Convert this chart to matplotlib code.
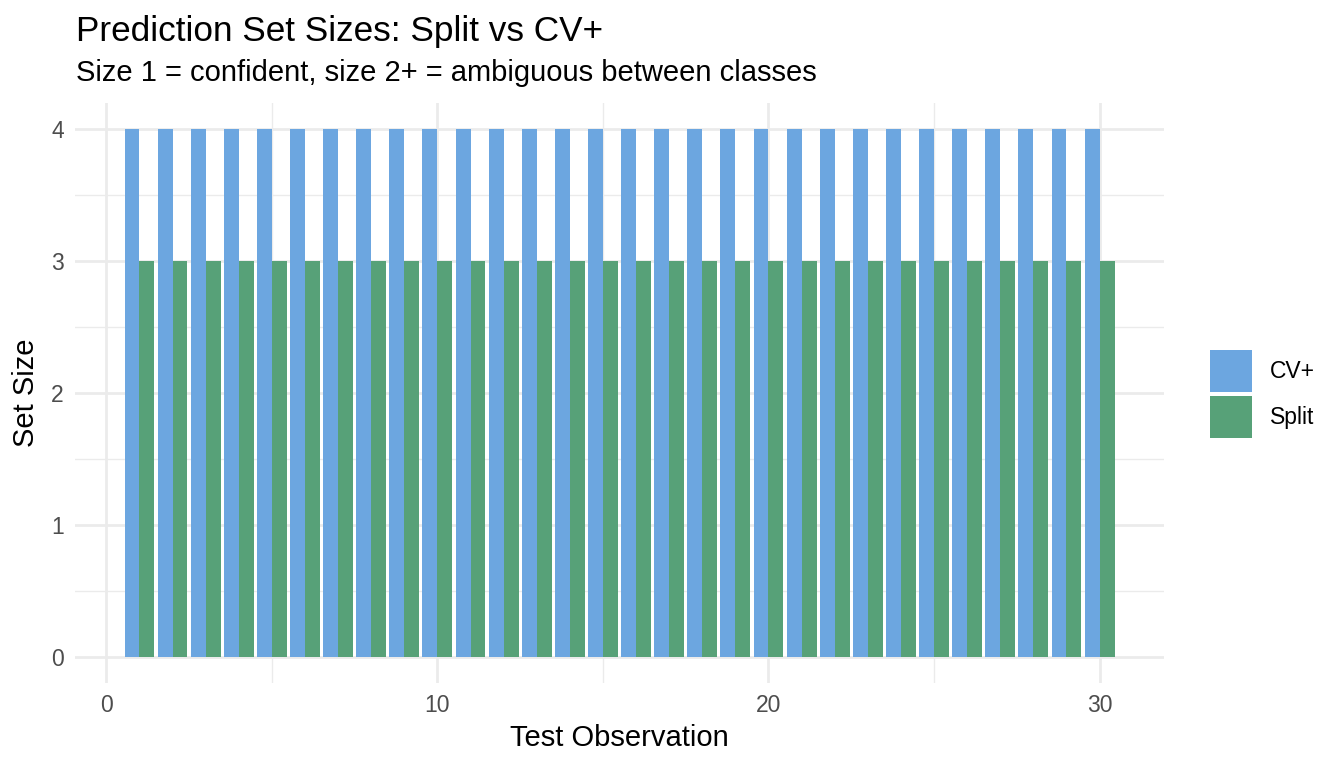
import numpy as np
import matplotlib.pyplot as plt
from matplotlib.ticker import MultipleLocator

plt.rcParams['font.family'] = ['Liberation Sans', 'DejaVu Sans']

# Data
observations = np.arange(1, 31)
cv_plus_sizes = [4] * 30
split_sizes = [3] * 30
methods = ['CV+', 'Split']
colors = ['#6CA6E0', '#57A178']

fig = plt.figure(figsize=(13.44, 7.68), dpi=100)
ax = fig.add_axes([75 / 1344, 1 - 683 / 768, (1164 - 75) / 1344, (683 - 103) / 768])

w = 0.45
ax.bar(observations - w / 2, cv_plus_sizes, width=w, color=colors[0], label=methods[0], zorder=3)
ax.bar(observations + w / 2, split_sizes, width=w, color=colors[1], label=methods[1], zorder=3)

ax.set_xlim(-0.945, 31.945)
ax.set_ylim(-0.2, 4.2)
ax.xaxis.set_major_locator(MultipleLocator(10))
ax.xaxis.set_minor_locator(MultipleLocator(5))
ax.yaxis.set_major_locator(MultipleLocator(1))
ax.yaxis.set_minor_locator(MultipleLocator(0.5))
ax.grid(which='major', color='#EBEBEB', linewidth=2.0, zorder=0)
ax.grid(which='minor', color='#EBEBEB', linewidth=1.0, zorder=0)
for s in ax.spines.values():
    s.set_visible(False)
ax.tick_params(which='both', length=0, labelsize=16.5, labelcolor='#4D4D4D', pad=8)

ax.set_xlabel('Test Observation', fontsize=21, labelpad=5)
ax.set_ylabel('Set Size', fontsize=21, labelpad=8)

fig.text(76 / 1344, 1 - 31 / 768, 'Prediction Set Sizes: Split vs CV+', fontsize=25.3, va='center', ha='left')
fig.text(76 / 1344, 1 - 73 / 768, 'Size 1 = confident, size 2+ = ambiguous between classes', fontsize=21, va='center', ha='left')

# legend keys ~42px square
fig.legend(loc='center left', bbox_to_anchor=(1210 / 1344, 1 - 394 / 768), frameon=False,
           fontsize=16.5, handlelength=1.85, handleheight=2.445, labelspacing=0.2,
           handletextpad=0.75, borderpad=0, borderaxespad=0)

fig.savefig('out.png', dpi=100)
